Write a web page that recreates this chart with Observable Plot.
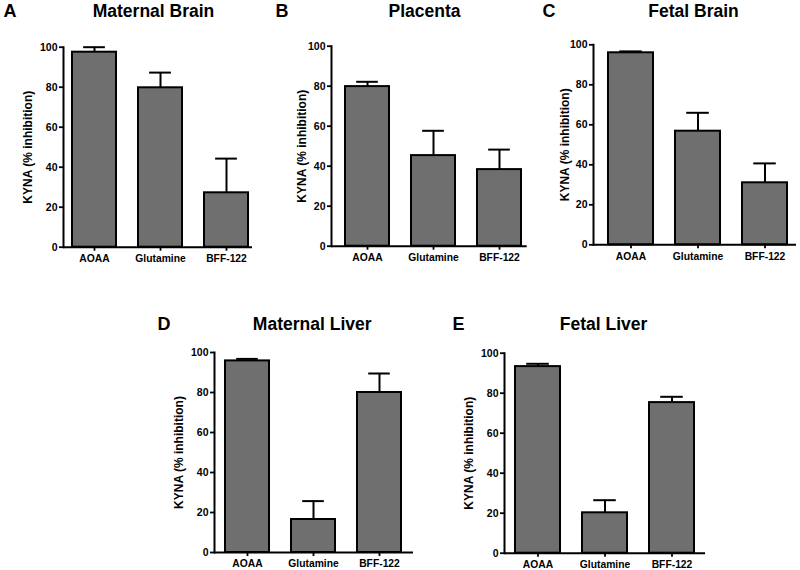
<!DOCTYPE html>
<html><head><meta charset="utf-8">
<script src="https://cdn.jsdelivr.net/npm/d3@7"></script>
<script src="https://cdn.jsdelivr.net/npm/@observablehq/plot@0.6"></script>
<style>
body{margin:0;background:#fff;}
#root{position:relative;width:800px;height:570px;overflow:hidden;}
#root svg{position:absolute;}
</style></head><body><div id="root"></div>
<script>
const categories = ["AOAA", "Glutamine", "BFF-122"];
const panelLetters = ["A", "B", "C", "D", "E"];
const panelTitles = ["Maternal Brain", "Placenta", "Fetal Brain", "Maternal Liver", "Fetal Liver"];
const yTicks = [0, 20, 40, 60, 80, 100];
const yLabel = "KYNA (% inhibition)";

const maternalBrainMean = [97.5, 79.7, 27.2];
const maternalBrainSem  = [2.5, 7.6, 17.1];
const placentaMean      = [79.8, 45.3, 38.3];
const placentaSem       = [2.4, 12.4, 10.0];
const fetalBrainMean    = [96.0, 56.8, 31.0];
const fetalBrainSem     = [0.7, 9.2, 9.7];
const maternalLiverMean = [95.8, 16.5, 80.0];
const maternalLiverSem  = [1.0, 9.2, 9.5];
const fetalLiverMean    = [93.3, 20.2, 75.3];
const fetalLiverSem     = [1.4, 6.3, 2.9];

const means = [maternalBrainMean, placentaMean, fetalBrainMean, maternalLiverMean, fetalLiverMean];
const sems = [maternalBrainSem, placentaSem, fetalBrainSem, maternalLiverSem, fetalLiverSem];

// panel layout in page pixels
const layout = [
  {left: 0,   top: 0,   width: 260, height: 275, axisX: 63,  axisEnd: 252,   y100: 46.7,  y0: 246.7, barStart: 72,    barEnd: 249,   titleX: 153,   titleY: 11,  letterX: 3,   labelX: 28},
  {left: 260, top: 0,   width: 270, height: 275, axisX: 331, axisEnd: 526.7, y100: 45.7,  y0: 245.7, barStart: 344,   barEnd: 522,   titleX: 424,   titleY: 11,  letterX: 275, labelX: 302},
  {left: 530, top: 0,   width: 270, height: 275, axisX: 593, axisEnd: 796,   y100: 44.3,  y0: 244.3, barStart: 607.7, barEnd: 786.7, titleX: 693,   titleY: 11,  letterX: 542, labelX: 565},
  {left: 140, top: 290, width: 290, height: 280, axisX: 214, axisEnd: 413,   y100: 352,   y0: 552,   barStart: 224,   barEnd: 402.7, titleX: 311.7, titleY: 324, letterX: 157, labelX: 179},
  {left: 430, top: 290, width: 290, height: 280, axisX: 504, axisEnd: 705,   y100: 352.7, y0: 552.7, barStart: 515,   barEnd: 694,   titleX: 603,   titleY: 324, letterX: 452, labelX: 469}
];

const root = document.getElementById("root");
const FONT = "'Liberation Sans', Arial, Helvetica, sans-serif";

layout.forEach((L, i) => {
  const data = categories.map((c, j) => ({cat: c, mean: means[i][j], sem: sems[i][j]}));
  const band = (L.barEnd - L.barStart) / (3 - 0.33) * 0.67;
  const plot = Plot.plot({
    width: L.width,
    height: L.height,
    marginLeft: L.axisX - L.left,
    marginRight: L.left + L.width - L.axisEnd,
    marginTop: L.y100 - L.top,
    marginBottom: L.top + L.height - L.y0,
    style: {fontFamily: FONT, fontSize: "10px", fontWeight: "bold", color: "black", background: "transparent", position: "absolute", left: L.left + "px", top: L.top + "px"},
    x: {domain: categories, range: [L.barStart - L.left, L.barEnd - L.left], paddingInner: 0.33, paddingOuter: 0, label: null},
    y: {domain: [0, 100], label: null},
    marks: [
      Plot.barY(data, {x: "cat", y: "mean", fill: "#6f6f6f", stroke: "black", strokeWidth: 2}),
      Plot.ruleX(data, {x: "cat", y1: "mean", y2: d => d.mean + d.sem, stroke: "black", strokeWidth: 2}),
      Plot.tickY(data, {x: "cat", y: d => d.mean + d.sem, insetLeft: band / 4, insetRight: band / 4, stroke: "black", strokeWidth: 2}),
      Plot.axisY({ticks: yTicks, tickSize: 4, tickPadding: 2, tickFormat: d => d, label: null, strokeWidth: 1.8, fontSize: 10.5, fontWeight: "bold"}),
      Plot.axisX({tickSize: 4, tickPadding: 3.5, label: null, strokeWidth: 1.8, fontSize: 10.3, fontWeight: "bold"}),
      Plot.frame({anchor: "left", strokeWidth: 2}),
      Plot.ruleY([0], {strokeWidth: 2}),
      Plot.text([panelTitles[i]], {frameAnchor: "top-left", dx: L.titleX - L.axisX, dy: L.titleY - L.y100, textAnchor: "middle", lineAnchor: "middle", fontSize: 17.5, fontWeight: "bold", fill: "black"}),
      Plot.text([panelLetters[i]], {frameAnchor: "top-left", dx: L.letterX - L.axisX, dy: L.titleY - L.y100, textAnchor: "start", lineAnchor: "middle", fontSize: 18, fontWeight: "bold", fill: "black"}),
      Plot.text([yLabel], {frameAnchor: "left", dx: L.labelX - L.axisX, rotate: -90, textAnchor: "middle", lineAnchor: "middle", fontSize: 12, fontWeight: "bold", fill: "black"})
    ]
  });
  root.appendChild(plot);
});
</script>
</body></html>
